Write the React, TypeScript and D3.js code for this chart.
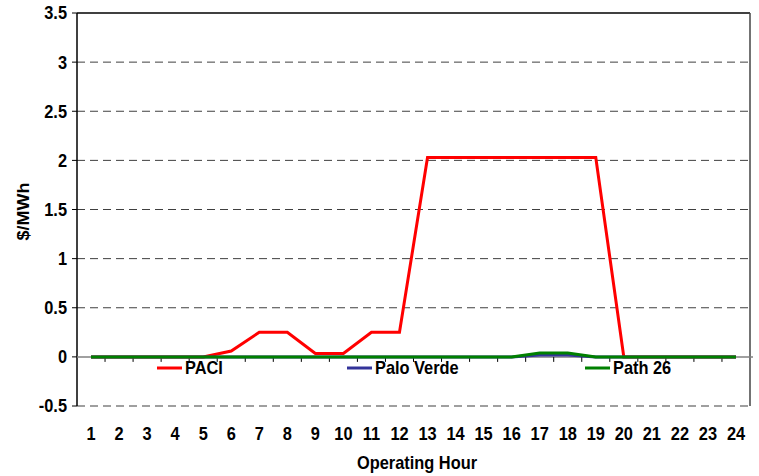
import React from "react";
import * as d3 from "d3";

const hours = d3.range(1, 25).map(String);
const paci = [0, 0, 0, 0, 0, 0.06, 0.25, 0.25, 0.035, 0.035, 0.25, 0.25, 2.03, 2.03, 2.03, 2.03, 2.03, 2.03, 2.03, 0, 0, 0, 0, 0];
const paloVerde = [0, 0, 0, 0, 0, 0, 0, 0, 0, 0, 0, 0, 0, 0, 0, 0, 0.02, 0.02, 0, 0, 0, 0, 0, 0];
const path26 = [0, 0, 0, 0, 0, 0, 0, 0, 0, 0, 0, 0, 0, 0, 0, 0, 0.04, 0.04, 0, 0, 0, 0, 0, 0];
const yTicks = [-0.5, 0, 0.5, 1, 1.5, 2, 2.5, 3, 3.5];
const seriesNames = ["PACI", "Palo Verde", "Path 26"];
const seriesColors = ["#ff0000", "#333399", "#008000"];

const W = 759, H = 476;
const M = { left: 77, right: 9, top: 13, bottom: 70 };
const font = "Liberation Sans, Arial, sans-serif";
const SX = 0.91;
const FS = 18;

function Txt(props: { x: number; y: number; anchor?: string; children: React.ReactNode; dy?: string; rotate?: number }) {
  const { x, y, anchor, children, dy, rotate } = props;
  const tr = rotate ? `translate(${x},${y}) rotate(${rotate}) scale(1,${SX})` : `translate(${x},${y}) scale(${SX},1)`;
  return (
    <text transform={tr} dy={dy} textAnchor={anchor || "start"} fontFamily={font} fontWeight="bold" fontSize={FS} fill="#000">
      {children}
    </text>
  );
}

export default function App() {
  const x = d3.scaleBand().domain(hours).range([M.left, W - M.right]);
  const y = d3.scaleLinear().domain([-0.5, 3.5]).range([H - M.bottom, M.top]);
  const cx = (h: string) => (x(h) as number) + x.bandwidth() / 2;
  const line = d3.line<number>().x((_, i) => cx(hours[i])).y((v) => y(v));
  const allSeries = [paci, paloVerde, path26];
  const x0 = M.left, x1 = W - M.right;
  const legendX = [157, 347, 585];
  const legendY = 368;

  return (
    <svg width={W} height={H} style={{ position: "absolute", left: 0, top: 0, background: "#fff" }}>
      <rect x={0} y={0} width={W} height={H} fill="#fff" />
      {yTicks.filter((t) => t !== 0 && t !== 3.5).map((t) => (
        <line key={t} x1={x0} x2={x1} y1={y(t)} y2={y(t)} stroke="#000" strokeWidth={1} strokeDasharray="8,5" opacity={0.75} />
      ))}
      <line x1={x0} x2={x1} y1={y(3.5)} y2={y(3.5)} stroke="#000" strokeWidth={1.5} />
      <line x1={x1} x2={x1} y1={y(3.5)} y2={y(-0.5)} stroke="#444" strokeWidth={1.5} />
      <line x1={x0} x2={x0} y1={y(3.5)} y2={y(-0.5)} stroke="#000" strokeWidth={1.5} />
      {yTicks.map((t) => (
        <g key={t}>
          <line x1={x0 - 5} x2={x0} y1={y(t)} y2={y(t)} stroke="#000" strokeWidth={1} />
          <Txt x={x0 - 10} y={y(t)} dy="0.36em" anchor="end">{String(t)}</Txt>
        </g>
      ))}
      <line x1={x0} x2={x1 + 3} y1={y(0)} y2={y(0)} stroke="#808080" strokeWidth={1.5} />
      {hours.slice(1).map((h) => (
        <line key={h} x1={x(h) as number} x2={x(h) as number} y1={y(0)} y2={y(0) + 5} stroke="#000" strokeWidth={1} />
      ))}
      {hours.map((h) => (
        <Txt key={h} x={cx(h)} y={440} anchor="middle">{h}</Txt>
      ))}
      {allSeries.map((s, i) => (
        <path key={i} d={line(s) as string} fill="none" stroke={seriesColors[i]} strokeWidth={3} strokeLinejoin="miter" />
      ))}
      {seriesNames.map((n, i) => (
        <g key={n}>
          <line x1={legendX[i]} x2={legendX[i] + 25} y1={legendY} y2={legendY} stroke={seriesColors[i]} strokeWidth={3} />
          <Txt x={legendX[i] + 28} y={legendY} dy="0.36em">{n}</Txt>
        </g>
      ))}
      <Txt x={417} y={469} anchor="middle">Operating Hour</Txt>
      <Txt x={29} y={y(1.5) + 2} anchor="middle" rotate={-90}>$/MWh</Txt>
    </svg>
  );
}
